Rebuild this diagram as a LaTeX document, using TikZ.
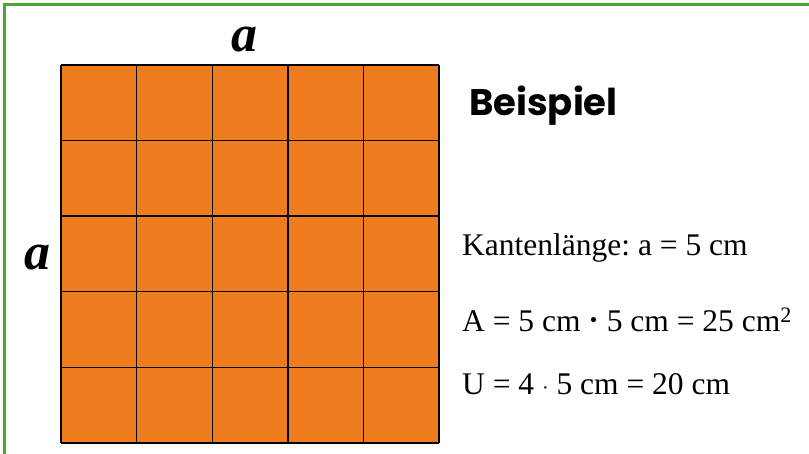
\documentclass[tikz,border=0pt]{standalone}
\usepackage{fontspec}
\setmainfont{Liberation Serif}
\newfontfamily\titlefont{Poppins}
\definecolor{sqorange}{RGB}{238,123,30}
\definecolor{frame}{RGB}{76,166,48}
\frenchspacing
\begin{document}
\begin{tikzpicture}[x=1pt,y=-1pt,
  txt/.style={anchor=base west,inner sep=0pt,font=\fontsize{31.5}{36}\selectfont},
  lbl/.style={anchor=base,inner sep=0pt,font=\fontsize{52}{56}\selectfont\bfseries\itshape},
  gridline/.style={line width=1.4pt,black}]
\useasboundingbox (0,0) rectangle (809,454);
\fill[white] (0,0) rectangle (809,454);
\draw[frame,line width=2.5pt] (4.5,454) -- (4.5,4.5) -- (809,4.5);
% grid
\fill[sqorange] (61,65) rectangle (439,443);
\foreach \i in {0,...,5}{
  \draw[gridline] ({61+\i*75.6},65) -- ({61+\i*75.6},443);
  \draw[gridline] (61,{65+\i*75.6}) -- (439,{65+\i*75.6});
}
\node[lbl] (atop) at (244,52) {a};
\node[lbl] (aleft) at (37.5,270) {a};
\node[anchor=base west,inner sep=0pt,font=\titlefont\fontsize{37}{42}\selectfont\bfseries] (title) at (469,116) {Beispiel};
\node[txt] (kante) at (462,256) {Kantenlänge: a = 5 cm};
\node[txt] (area) at (462,332) {A = 5 cm \raisebox{0.05em}{\textbf{·}} 5 cm = 25 cm\textsuperscript{2}};
\node[txt] (umf) at (462,395) {U = 4 {\fontsize{20}{20}\selectfont ·} 5 cm = 20 cm};
\end{tikzpicture}
\end{document}
